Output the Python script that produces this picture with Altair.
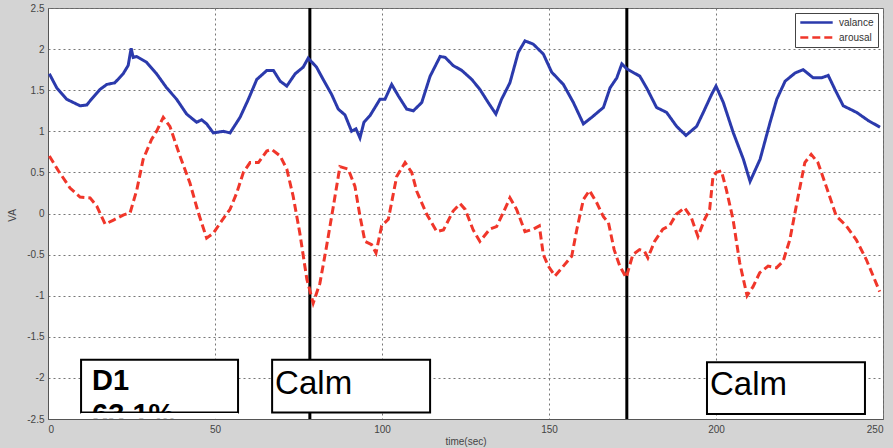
import altair as alt
import pandas as pd

# ---------------- data ----------------
series_names = ["valance", "arousal"]

val_t = [0.4, 2.6, 5.6, 9.6, 11.6, 12.6, 15.6, 17.6, 20, 22.5, 24, 24.9, 25.5, 26.5, 29.5,
         32.5, 35.5, 38.5, 41.5, 44.5, 46, 47.5, 49.5, 52.5, 54.5, 57.5, 60, 62.5, 65.5,
         67.5, 69.5, 71.5, 74, 76.4, 77.9, 80.4, 82.4, 84.9, 86.9, 88.9, 90.9, 92.2, 93.4,
         94.6, 96.4, 99.4, 100.9, 102.9, 104.9, 107.4, 109.4, 111.9, 114.4, 117.4, 118.9,
         121.3, 123.9, 126.9, 129.3, 131.8, 134.1, 135.8, 138.3, 140.8, 142.8, 145.3, 148.3,
         150.8, 154.3, 157.3, 160.3, 162.8, 166.3, 168.3, 170.3, 171.8, 173.3, 177.2, 179.2,
         182.2, 185.2, 188.2, 191, 194.2, 196.2, 198.7, 200, 202.2, 205.2, 208.2, 210.2,
         213.2, 216.2, 218.2, 220.7, 223.7, 226.1, 229.1, 231.6, 233.6, 235.6, 238.1, 242.1,
         245.6, 249.1]
val_v = [1.70, 1.53, 1.39, 1.31, 1.32, 1.37, 1.51, 1.57, 1.59, 1.70, 1.80, 2.01, 1.90, 1.91, 1.84,
         1.70, 1.53, 1.39, 1.21, 1.11, 1.14, 1.09, 0.98, 1.00, 0.98, 1.17, 1.39, 1.63, 1.74,
         1.74, 1.61, 1.55, 1.70, 1.78, 1.89, 1.78, 1.63, 1.45, 1.27, 1.20, 1.00, 1.03, 0.92,
         1.11, 1.19, 1.39, 1.39, 1.57, 1.43, 1.27, 1.25, 1.35, 1.67, 1.91, 1.90,
         1.80, 1.74, 1.63, 1.51, 1.35, 1.21, 1.39, 1.59, 1.96, 2.10, 2.06, 1.94,
         1.72, 1.57, 1.35, 1.09, 1.17, 1.29, 1.53, 1.65, 1.82, 1.76, 1.67, 1.53,
         1.29, 1.23, 1.06, 0.95, 1.06, 1.23, 1.45, 1.55, 1.35, 0.98, 0.66, 0.39,
         0.66, 1.11, 1.39, 1.61, 1.71, 1.75, 1.65, 1.65, 1.68, 1.51, 1.31, 1.23,
         1.13, 1.05]

aro_t = [0.4, 3.1, 6.6, 9.6, 12.6, 14.6, 17.1, 19.6, 22.5, 24.6, 26.6, 28.5, 31, 32.5, 34.5,
         36.5, 39.5, 42.5, 45, 47.5, 49.5, 52, 54.5, 56.5, 58.5, 60.5, 63, 65.5, 67, 69.5,
         71.5, 73.4, 75.4, 77.5, 79.4, 81.4, 83.4, 85.4, 87.4, 89.9, 91.9, 93.4, 94.9, 96.9,
         98.2, 99.9, 101.9, 104.4, 106.9, 108.9, 110.4, 113.4, 116.4, 118.4, 121.3, 123.4,
         124.9, 127.3, 129.3, 132.3, 134.3, 136.3, 138.3, 140.3, 142.8, 145.3, 147.1, 148.3,
         149.8, 151.8, 154.3, 156.8, 158.3, 160.3, 162.1, 164.3, 166.3, 167.8, 169.5, 171.2,
         173.1, 175.1, 177.1, 178.6, 179.6, 181.6, 184.1, 186.1, 188.1, 190.6, 192.6, 194.6,
         196.6, 198.1, 199.1, 200.1, 201.6, 203.1, 205.1, 207.1, 209.3, 211.1, 213.1, 215.6,
         218.1, 220.1, 222.1, 224.6, 226.6, 228.5, 230.5, 233, 236, 239, 242, 245, 249]
aro_v = [0.70, 0.52, 0.31, 0.20, 0.19, 0.09, -0.13, -0.08, -0.02, 0.01, 0.29, 0.66, 0.90, 1.00, 1.17,
         1.06, 0.70, 0.37, 0.01, -0.30, -0.24, -0.09, 0.05, 0.25, 0.50, 0.62, 0.62, 0.76, 0.78, 0.70,
         0.54, 0.21, -0.24, -0.80, -1.09, -0.85, -0.40, 0.08, 0.57, 0.54, 0.33, -0.03, -0.34, -0.38,
         -0.48, -0.15, -0.07, 0.45, 0.62, 0.50, 0.27, -0.01, -0.22, -0.20, 0.03, 0.12,
         0.05, -0.20, -0.34, -0.19, -0.16, 0.01, 0.19, 0.05, -0.22, -0.19, -0.15, -0.50,
         -0.64, -0.76, -0.64, -0.52, -0.20, 0.17, 0.28, 0.13, -0.04, -0.11, -0.44, -0.64,
         -0.78, -0.50, -0.44, -0.46, -0.54, -0.34, -0.19, -0.15, -0.01, 0.07, -0.05, -0.28,
         -0.07, 0.05, 0.45, 0.50, 0.52, 0.29, -0.07, -0.60, -1.00, -0.89, -0.72, -0.64,
         -0.66, -0.58, -0.32, 0.21, 0.62, 0.72, 0.62, 0.33, -0.03, -0.15, -0.32, -0.56, -0.95]

marker_t = [78.4, 173.3]

box_x1 = [9.9, 67.1, 197.3]
box_x2 = [56.9, 114.4, 244.6]
box_y1 = [-1.78, -1.78, -1.81]
box_y2 = [-2.42, -2.42, -2.44]

label_text = ["D1", "Calm", "Calm"]
label_t = [13.2, 68.0, 198.2]
label_v = [-2.15, -2.19, -2.21]
sub_text = ["63.1%"]
sub_t = [13.2]
sub_v = [-2.56]

x_ticks = [0, 50, 100, 150, 200, 250]
y_ticks = [-2.5, -2, -1.5, -1, -0.5, 0, 0.5, 1, 1.5, 2, 2.5]

# ---------------- tables ----------------
df_lines = pd.concat([
    pd.DataFrame({"t": val_t, "v": val_v, "series": series_names[0]}),
    pd.DataFrame({"t": aro_t, "v": aro_v, "series": series_names[1]}),
])
df_marks = pd.DataFrame({"t": marker_t})
df_boxes = pd.DataFrame({"x1": box_x1, "x2": box_x2, "y1": box_y1, "y2": box_y2})
df_d1 = pd.DataFrame({"t": label_t[:1], "v": label_v[:1], "txt": label_text[:1]})
df_calm = pd.DataFrame({"t": label_t[1:], "v": label_v[1:], "txt": label_text[1:]})
df_sub = pd.DataFrame({"t": sub_t, "v": sub_v, "txt": sub_text})
df_cover = pd.DataFrame({"x1": box_x1[:1], "x2": box_x2[:1], "y1": [-2.428], "y2": [-2.497]})

xscale = alt.Scale(domain=[0, 250], nice=False, zero=False)
yscale = alt.Scale(domain=[-2.5, 2.5], nice=False, zero=False)

x_axis = alt.Axis(values=x_ticks, title="time(sec)", grid=True, gridDash=[2, 3],
                  gridColor="#777777", gridOpacity=1, ticks=False, labelPadding=5,
                  labelFontSize=10, labelColor="#444444", labelFont="Liberation Sans",
                  domainColor="#555555", titleFontSize=10, titleFontWeight="normal",
                  titleColor="#444444", titleFont="Liberation Sans", titleY=17,
                  labelExpr="datum.value + ''")
y_axis = alt.Axis(values=y_ticks, title="VA", grid=True, gridDash=[2, 3],
                  gridColor="#777777", gridOpacity=1, ticks=False, labelPadding=4,
                  labelFontSize=10, labelColor="#444444", labelFont="Liberation Sans",
                  domainColor="#555555", titleFontSize=10, titleFontWeight="normal",
                  titleColor="#444444", titleFont="Liberation Sans", titleX=-31, titleY=207,
                  labelExpr="datum.value + ''")

legend = alt.Legend(title=None, orient="top-right", offset=5, fillColor="white",
                    strokeColor="#444444", padding=4, labelFontSize=10,
                    labelColor="#333333", labelFont="Liberation Sans",
                    symbolType="stroke", symbolSize=1050, symbolStrokeWidth=2.5,
                    clipHeight=11, rowPadding=4, labelOffset=5)

lines = alt.Chart(df_lines).mark_line(strokeWidth=3).encode(
    x=alt.X("t:Q", scale=xscale, axis=x_axis),
    y=alt.Y("v:Q", scale=yscale, axis=y_axis),
    color=alt.Color("series:N", scale=alt.Scale(domain=series_names,
                                                range=["#2b3aac", "#f0362a"]),
                    legend=legend),
    strokeDash=alt.StrokeDash("series:N", scale=alt.Scale(domain=series_names,
                                                          range=[[1, 0], [8, 4]]),
                              legend=legend),
)

rules = alt.Chart(df_marks).mark_rule(color="black", strokeWidth=3).encode(
    x=alt.X("t:Q", scale=xscale)
)

boxes = alt.Chart(df_boxes).mark_rect(fill="white", stroke="black", strokeWidth=2).encode(
    x=alt.X("x1:Q", scale=xscale), x2="x2:Q",
    y=alt.Y("y1:Q", scale=yscale), y2="y2:Q",
)

d1 = alt.Chart(df_d1).mark_text(align="left", baseline="alphabetic", fontSize=29,
                                fontWeight="bold", font="Liberation Sans",
                                color="black").encode(
    x=alt.X("t:Q", scale=xscale), y=alt.Y("v:Q", scale=yscale), text="txt:N")

calm = alt.Chart(df_calm).mark_text(align="left", baseline="alphabetic", fontSize=33,
                                    font="Liberation Sans", color="black").encode(
    x=alt.X("t:Q", scale=xscale), y=alt.Y("v:Q", scale=yscale), text="txt:N")

sub = alt.Chart(df_sub).mark_text(align="left", baseline="alphabetic", fontSize=29,
                                  fontWeight="bold", font="Liberation Sans",
                                  color="black", clip=True).encode(
    x=alt.X("t:Q", scale=xscale), y=alt.Y("v:Q", scale=yscale), text="txt:N")

cover = alt.Chart(df_cover).mark_rect(fill="white").encode(
    x=alt.X("x1:Q", scale=xscale), x2="x2:Q",
    y=alt.Y("y1:Q", scale=yscale), y2="y2:Q",
)

chart = alt.layer(rules, lines, boxes, d1, calm, sub, cover).properties(
    width=835, height=411,
    padding={"left": 48, "top": 8, "right": 10, "bottom": 29},
    autosize=alt.AutoSizeParams(type="none"),
    background="#d4d4d4",
).configure_view(fill="white", stroke="#666666", strokeWidth=1)

chart.save("out.html", embed_options={"renderer": "svg", "actions": False})
